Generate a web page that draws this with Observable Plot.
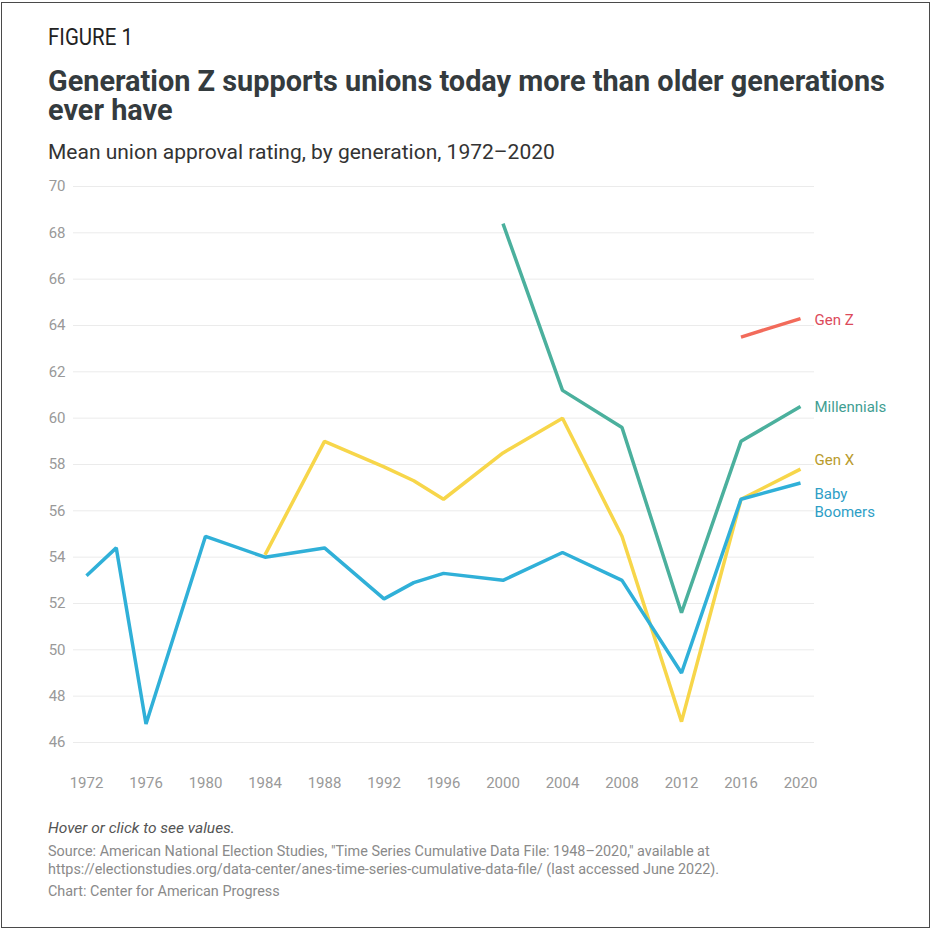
<!DOCTYPE html>
<html>
<head>
<meta charset="utf-8">
<script src="https://cdn.jsdelivr.net/npm/d3@7"></script>
<script src="https://cdn.jsdelivr.net/npm/@observablehq/plot@0.6"></script>
<style>
  html, body { margin: 0; padding: 0; background: #fff; }
  body { width: 932px; height: 930px; position: relative; overflow: hidden; font-family: Roboto, "Noto Sans", sans-serif; }
  #frame { position: absolute; left: 1px; top: 2px; width: 927px; height: 924px; border: 1.5px solid #4a4a4a; }
  .t { position: absolute; left: 48px; white-space: nowrap; }
  #fig { top: 26px; font-size: 23px; line-height: 23px; color: #222; transform: scaleX(0.89); transform-origin: left; }
  .title { font-size: 29px; font-weight: 700; color: #343b3e; line-height: 26px; height: 26px; transform: scaleX(0.995); transform-origin: left; }
  #title1 { top: 68px; }
  #title2 { top: 97px; }
  #sub { top: 141.5px; font-size: 21px; line-height: 21px; color: #333; }
  #chart { position: absolute; left: 0; top: 170px; }
  #hover { top: 820px; font-size: 15.5px; line-height: 16px; font-style: italic; color: #555; }
  #src { top: 843px; font-size: 14.4px; color: #8a8a8a; line-height: 18px; }
  #credit { top: 883px; font-size: 14.4px; line-height: 18px; color: #8a8a8a; }
</style>
</head>
<body>
<div id="frame"></div>
<div class="t" id="fig">FIGURE 1</div>
<div class="t title" id="title1">Generation Z supports unions today more than older generations</div>
<div class="t title" id="title2">ever have</div>
<div class="t" id="sub">Mean union approval rating, by generation, 1972–2020</div>
<div id="chart"></div>
<div class="t" id="hover">Hover or click to see values.</div>
<div class="t" id="src">Source: American National Election Studies, "Time Series Cumulative Data File: 1948–2020," available at<br>https://electionstudies.org/data-center/anes-time-series-cumulative-data-file/ (last accessed June 2022).</div>
<div class="t" id="credit">Chart: Center for American Progress</div>
<script>
// ---- Data ----
const boomerYears = [1972, 1974, 1976, 1980, 1984, 1988, 1992, 1994, 1996, 2000, 2004, 2008, 2012, 2016, 2020];
const boomerValues = [53.2, 54.4, 46.8, 54.9, 54.0, 54.4, 52.2, 52.9, 53.3, 53.0, 54.2, 53.0, 49.0, 56.5, 57.2];
const genXYears = [1984, 1988, 1992, 1994, 1996, 2000, 2004, 2008, 2012, 2016, 2020];
const genXValues = [54.1, 59.0, 57.9, 57.3, 56.5, 58.5, 60.0, 54.9, 46.9, 56.5, 57.8];
const millYears = [2000, 2004, 2008, 2012, 2016, 2020];
const millValues = [68.4, 61.2, 59.6, 51.6, 59.0, 60.5];
const genZYears = [2016, 2020];
const genZValues = [63.5, 64.3];
const seriesNames = ["Gen Z", "Gen X", "Millennials", "Baby Boomers"];
const seriesLabels = ["Gen Z", "Gen X", "Millennials", "Baby\nBoomers"];
const xTicks = [1972, 1976, 1980, 1984, 1988, 1992, 1996, 2000, 2004, 2008, 2012, 2016, 2020];
const yTicks = [46, 48, 50, 52, 54, 56, 58, 60, 62, 64, 66, 68, 70];

// ---- Styles ----
const lineColors = {"Gen Z": "#f26b5b", "Gen X": "#f7d64a", "Millennials": "#4bb09d", "Baby Boomers": "#30b0d8"};
const textColors = {"Gen Z": "#dc4a5a", "Gen X": "#b99b2c", "Millennials": "#3f9e92", "Baby Boomers": "#2e9ec6"};
const labelDy = {"Gen Z": 1, "Gen X": -10, "Millennials": 0, "Baby Boomers": 19};

const toRows = (name, xs, vs) => xs.map((x, i) => ({series: name, year: x, value: vs[i]}));
const rows = [
  ...toRows("Gen Z", genZYears, genZValues),
  ...toRows("Gen X", genXYears, genXValues),
  ...toRows("Millennials", millYears, millValues),
  ...toRows("Baby Boomers", boomerYears, boomerValues)
];

const labelMarks = seriesNames.map((name, i) => {
  const last = rows.filter(d => d.series === name).slice(-1);
  return Plot.text(last, {
    x: "year", y: "value", text: () => seriesLabels[i],
    textAnchor: "start", dx: 14, dy: labelDy[name], lineHeight: 1.2,
    fill: textColors[name], fontSize: 15
  });
});

const chart = Plot.plot({
  width: 932,
  height: 640,
  marginLeft: 73,
  marginRight: 118,
  marginTop: 16,
  marginBottom: 68,
  style: {fontFamily: "Roboto, sans-serif", fontSize: "15px", background: "transparent"},
  x: {domain: [1972, 2020], insetLeft: 13, insetRight: 14},
  y: {domain: [46, 70]},
  marks: [
    Plot.ruleY(yTicks, {stroke: "#ebebeb", strokeWidth: 1}),
    Plot.axisY({ticks: yTicks, tickSize: 0, tickPadding: 8, fontSize: 15, color: "#999", label: null}),
    Plot.axisX({ticks: xTicks, tickSize: 0, tickPadding: 35, fontSize: 15, color: "#999", label: null, tickFormat: d => String(d)}),
    ...seriesNames.map(name => Plot.line(rows.filter(d => d.series === name), {
      x: "year", y: "value", stroke: lineColors[name], strokeWidth: 3.5, strokeLinejoin: "miter", strokeLinecap: "butt"
    })),
    ...labelMarks
  ]
});
document.getElementById("chart").appendChild(chart);
</script>
</body>
</html>
